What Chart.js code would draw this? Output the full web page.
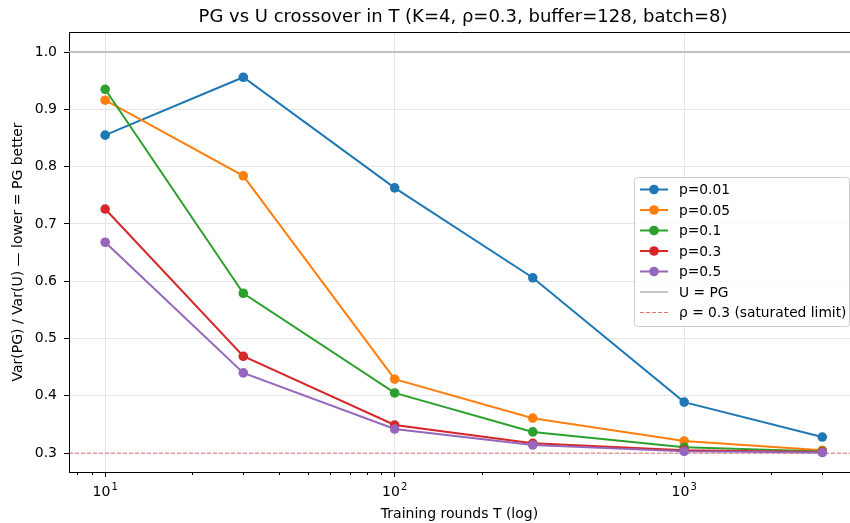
<!DOCTYPE html>
<html>
<head>
<meta charset="utf-8">
<script src="https://cdn.jsdelivr.net/npm/chart.js@4"></script>
<style>
  html, body { margin: 0; padding: 0; background: #fff; }
  #wrap { width: 850px; height: 523px; }
</style>
</head>
<body>
<div id="wrap"><canvas id="grafica" width="850" height="523"></canvas></div>
<script>
// datos
var rondas = [10, 30, 100, 300, 1000, 3000];
var p001 = [0.855, 0.956, 0.763, 0.606, 0.389, 0.328];
var p005 = [0.916, 0.784, 0.429, 0.361, 0.321, 0.305];
var p01  = [0.935, 0.579, 0.405, 0.337, 0.310, 0.303];
var p03  = [0.726, 0.469, 0.349, 0.317, 0.305, 0.302];
var p05  = [0.668, 0.440, 0.342, 0.314, 0.303, 0.301];
var etiquetas = ['p=0.01', 'p=0.05', 'p=0.1', 'p=0.3', 'p=0.5'];
var colores = ['#1f77b4', '#ff7f0e', '#2ca02c', '#d62728', '#9467bd'];
var yTicks = [0.3, 0.4, 0.5, 0.6, 0.7, 0.8, 0.9, 1.0];
var xMayores = [10, 100, 1000];
var xExponentes = {10: '1', 100: '2', 1000: '3'};
var lineaU = 1.0;
var lineaRho = 0.3;

var xMin = 7.5, xMax = 3740;
var fuente = "'DejaVu Sans', sans-serif";

function puntos(serie) {
	var r = [];
	for (var i in serie) r.push({x: rondas[i], y: serie[i]});
	return r;
}

var series = [p001, p005, p01, p03, p05];
var datasets = [];
for (var i = 0; i < series.length; i++) {
	datasets.push({
		label: etiquetas[i],
		data: puntos(series[i]),
		borderColor: colores[i],
		backgroundColor: colores[i],
		borderWidth: 2,
		pointRadius: 4.8,
		pointHoverRadius: 4.8,
		pointBorderWidth: 0,
		order: series.length - i
	});
}
datasets.push({
	label: 'U = PG',
	data: [{x: xMin, y: lineaU}, {x: xMax, y: lineaU}],
	borderColor: '#b0b0b0',
	borderWidth: 1.4,
	pointRadius: 0,
	order: 10
});
datasets.push({
	label: '\u03c1 = 0.3 (saturated limit)',
	data: [{x: xMin, y: lineaRho}, {x: xMax, y: lineaRho}],
	borderColor: 'rgba(220,40,40,0.65)',
	borderWidth: 1,
	borderDash: [4, 2],
	pointRadius: 0,
	order: 10
});

// minor ticks del eje log
var xTodos = [];
[1, 10, 100, 1000].forEach(function (d) {
	for (var k = 1; k <= 9; k++) {
		var v = d * k;
		if (v >= xMin && v <= xMax) xTodos.push(v);
	}
});

var marco = {
	id: 'marco',
	afterDraw: function (chart) {
		var ctx = chart.ctx, a = chart.chartArea;
		ctx.save();
		ctx.strokeStyle = '#000';
		ctx.lineWidth = 1;
		ctx.beginPath();
		ctx.moveTo(a.left, a.top + 0.5);
		ctx.lineTo(850, a.top + 0.5);
		ctx.stroke();
		// minor ticks
		var sx = chart.scales.x;
		ctx.beginPath();
		xTodos.forEach(function (v) {
			if (xMayores.indexOf(v) >= 0) return;
			var px = Math.round(sx.getPixelForValue(v)) + 0.5;
			ctx.moveTo(px, a.bottom);
			ctx.lineTo(px, a.bottom + 3);
		});
		ctx.stroke();
		// etiquetas 10^n
		ctx.fillStyle = '#000';
		ctx.textBaseline = 'alphabetic';
		ctx.textAlign = 'left';
		xMayores.forEach(function (v) {
			var px = sx.getPixelForValue(v);
			ctx.font = '14px ' + fuente;
			var w1 = ctx.measureText('10').width;
			ctx.font = '10px ' + fuente;
			var w2 = ctx.measureText(xExponentes[v]).width;
			var x0 = px - (w1 + w2 + 1) / 2;
			ctx.font = '14px ' + fuente;
			ctx.fillText('10', x0, 496);
			ctx.font = '10px ' + fuente;
			ctx.fillText(xExponentes[v], x0 + w1 + 1, 490);
		});
		// titulo
		ctx.font = '18px ' + fuente;
		ctx.textAlign = 'center';
		ctx.textBaseline = 'middle';
		ctx.fillText('PG vs U crossover in T (K=4, \u03c1=0.3, buffer=128, batch=8)', 463, 17);
		// leyenda
		var lx = 634, ly = 177, lw = 215, lh = 149;
		ctx.fillStyle = 'rgba(255,255,255,0.8)';
		ctx.strokeStyle = '#cccccc';
		ctx.beginPath();
		ctx.roundRect(lx + 0.5, ly + 0.5, lw, lh, 3);
		ctx.fill();
		ctx.stroke();
		ctx.font = '13.8px ' + fuente;
		ctx.textAlign = 'left';
		var ds = chart.data.datasets;
		for (var j = 0; j < ds.length; j++) {
			var yy = ly + 12.5 + j * 20.5;
			ctx.strokeStyle = ds[j].borderColor;
			ctx.lineWidth = ds[j].borderWidth;
			ctx.setLineDash(ds[j].borderDash || []);
			ctx.beginPath();
			ctx.moveTo(lx + 6, yy);
			ctx.lineTo(lx + 34, yy);
			ctx.stroke();
			ctx.setLineDash([]);
			if (ds[j].pointRadius > 0) {
				ctx.fillStyle = ds[j].backgroundColor;
				ctx.beginPath();
				ctx.arc(lx + 20, yy, 4.8, 0, Math.PI * 2);
				ctx.fill();
			}
			ctx.fillStyle = '#000';
			ctx.fillText(ds[j].label, lx + 45, yy + 1);
		}
		ctx.restore();
	}
};

var ctx = document.getElementById('grafica').getContext('2d');
var myChart = new Chart(ctx, {
	type: 'line',
	data: { datasets: datasets },
	plugins: [marco],
	options: {
		responsive: false,
		animation: false,
		events: [],
		layout: { autoPadding: false, padding: { top: 32, right: 0, left: 0, bottom: 0 } },
		plugins: { legend: { display: false }, tooltip: { enabled: false } },
		scales: {
			x: {
				type: 'logarithmic',
				min: xMin,
				max: xMax,
				afterBuildTicks: function (s) {
					s.ticks = xTodos.map(function (v) { return {value: v}; });
				},
				afterFit: function (s) {
					s.height = 51;
					s.paddingLeft = 0;
					s.paddingRight = 0;
				},
				ticks: {
					autoSkip: false,
					maxRotation: 0,
					display: true,
					color: 'rgba(0,0,0,0)',
					font: { family: fuente, size: 14 },
					padding: 7,
					callback: function () { return ''; }
				},
				grid: {
					color: function (c) {
						return (c.tick && xMayores.indexOf(c.tick.value) >= 0) ? '#e6e6e6' : 'rgba(0,0,0,0)';
					},
					tickColor: function (c) {
						return (c.tick && xMayores.indexOf(c.tick.value) >= 0) ? '#000' : 'rgba(0,0,0,0)';
					},
					tickLength: 5
				},
				border: { display: true, color: '#000', width: 1 },
				title: {
					display: true,
					text: 'Training rounds T (log)',
					color: '#000',
					font: { family: fuente, size: 14 },
					padding: { top: 1, bottom: 0 }
				}
			},
			y: {
				type: 'linear',
				min: 0.267,
				max: 1.035,
				afterBuildTicks: function (s) {
					s.ticks = yTicks.map(function (v) { return {value: v}; });
				},
				afterFit: function (s) {
					s.width = 69;
					s.paddingTop = 0;
					s.paddingBottom = 0;
				},
				ticks: {
					color: '#000',
					font: { family: fuente, size: 14 },
					padding: 7,
					callback: function (v) { return v.toFixed(1); }
				},
				grid: { color: '#e6e6e6', tickColor: '#000', tickLength: 5 },
				border: { display: true, color: '#000', width: 1 },
				title: {
					display: true,
					text: 'Var(PG) / Var(U) \u2014 lower = PG better',
					color: '#000',
					font: { family: fuente, size: 14 },
					padding: { top: 9.5, bottom: 0 }
				}
			}
		}
	}
});
</script>
</body>
</html>
